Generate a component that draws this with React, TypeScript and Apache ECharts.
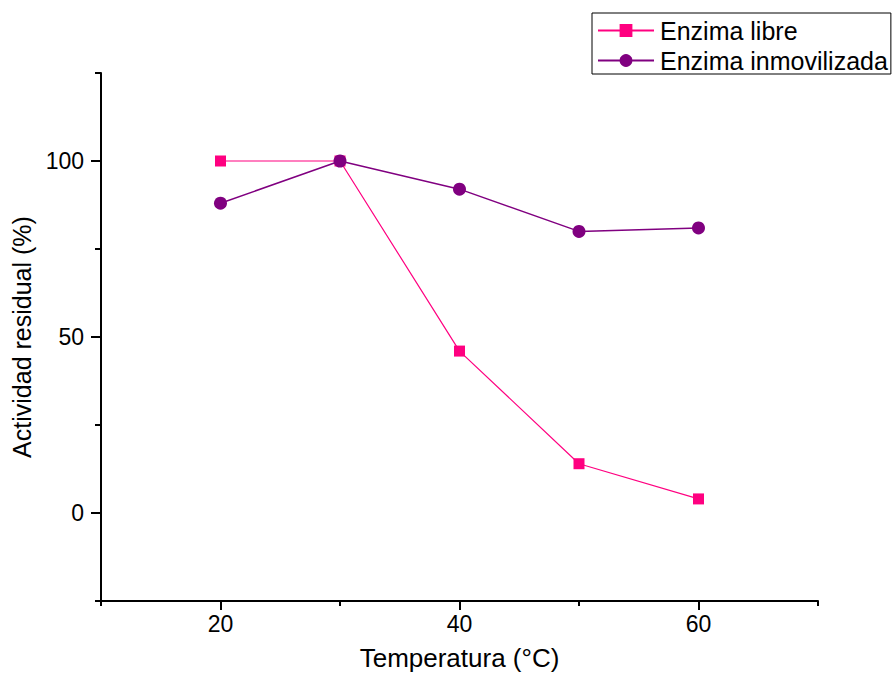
import React, { useEffect, useRef } from "react";
import * as echarts from "echarts";

const temperatures = [20, 30, 40, 50, 60];
const libreValues = [100, 100, 46, 14, 4];
const inmovValues = [88, 100, 92, 80, 81];
const xMajorTicks = [20, 40, 60];
const xMinorTicks = [10, 30, 50, 70];
const yMajorTicks = [0, 50, 100];
const yMinorTicks = [-25, 25, 75, 125];
const seriesNames = ["Enzima libre", "Enzima inmovilizada"];

const FONT = "Liberation Sans, Arial, sans-serif";

export default function App() {
  const ref = useRef<HTMLDivElement>(null);
  useEffect(() => {
    if (!ref.current) return;
    const chart = echarts.init(ref.current, null, { renderer: "svg" });
    const axisLine = { show: true, onZero: false, lineStyle: { color: "#000", width: 2 } };
    chart.setOption({
      animation: false,
      backgroundColor: "#fff",
      textStyle: { fontFamily: FONT, color: "#000" },
      grid: { left: 101, right: 76, top: 73, bottom: 76, containLabel: false },
      legend: {
        orient: "vertical",
        left: 592,
        top: 13,
        padding: [5, 3, 1, 5],
        itemGap: 5,
        itemWidth: 56,
        itemHeight: 16,
        borderColor: "#000",
        borderWidth: 1,
        textStyle: { fontFamily: FONT, fontSize: 25, color: "#000", padding: [0, 0, 0, 1] },
        data: seriesNames,
      },
      xAxis: [
        {
          type: "value",
          min: 10,
          max: 70,
          position: "bottom",
          name: "Temperatura (°C)",
          nameLocation: "middle",
          nameGap: 44,
          nameTextStyle: { fontFamily: FONT, fontSize: 26, color: "#000" },
          axisLine,
          splitLine: { show: false },
          axisTick: { show: true, customValues: xMajorTicks, length: 9, lineStyle: { color: "#000", width: 2 } },
          axisLabel: { customValues: xMajorTicks, fontFamily: FONT, fontSize: 23, color: "#000", margin: 11 },
        },
        {
          type: "value",
          min: 10,
          max: 70,
          position: "bottom",
          axisLine: { show: false, onZero: false },
          splitLine: { show: false },
          axisTick: { show: true, customValues: xMinorTicks, length: 5, lineStyle: { color: "#000", width: 2 } },
          axisLabel: { show: false },
        },
      ],
      yAxis: [
        {
          type: "value",
          min: -25,
          max: 125,
          position: "left",
          name: "Actividad residual (%)",
          nameLocation: "middle",
          nameGap: 63,
          nameTextStyle: { fontFamily: FONT, fontSize: 25, color: "#000" },
          axisLine,
          splitLine: { show: false },
          axisTick: { show: true, customValues: yMajorTicks, length: 10, lineStyle: { color: "#000", width: 2 } },
          axisLabel: { customValues: yMajorTicks, fontFamily: FONT, fontSize: 23, color: "#000", margin: 17 },
        },
        {
          type: "value",
          min: -25,
          max: 125,
          position: "left",
          axisLine: { show: false, onZero: false },
          splitLine: { show: false },
          axisTick: { show: true, customValues: yMinorTicks, length: 6, lineStyle: { color: "#000", width: 2 } },
          axisLabel: { show: false },
        },
      ],
      series: [
        {
          name: seriesNames[0],
          type: "line",
          xAxisIndex: 0,
          yAxisIndex: 0,
          data: temperatures.map((t, i) => [t, libreValues[i]]),
          symbol: "rect",
          symbolSize: 11,
          showAllSymbol: true,
          itemStyle: { color: "#FF0080" },
          lineStyle: { color: "#FF0080", width: 1.2 },
          z: 2,
        },
        {
          name: seriesNames[1],
          type: "line",
          xAxisIndex: 0,
          yAxisIndex: 0,
          data: temperatures.map((t, i) => [t, inmovValues[i]]),
          symbol: "circle",
          symbolSize: 13,
          showAllSymbol: true,
          itemStyle: { color: "#800080" },
          lineStyle: { color: "#800080", width: 1.5 },
          z: 3,
        },
      ],
    });
    return () => chart.dispose();
  }, []);
  return <div ref={ref} style={{ width: 894, height: 677, position: "absolute", left: 0, top: 0 }} />;
}
